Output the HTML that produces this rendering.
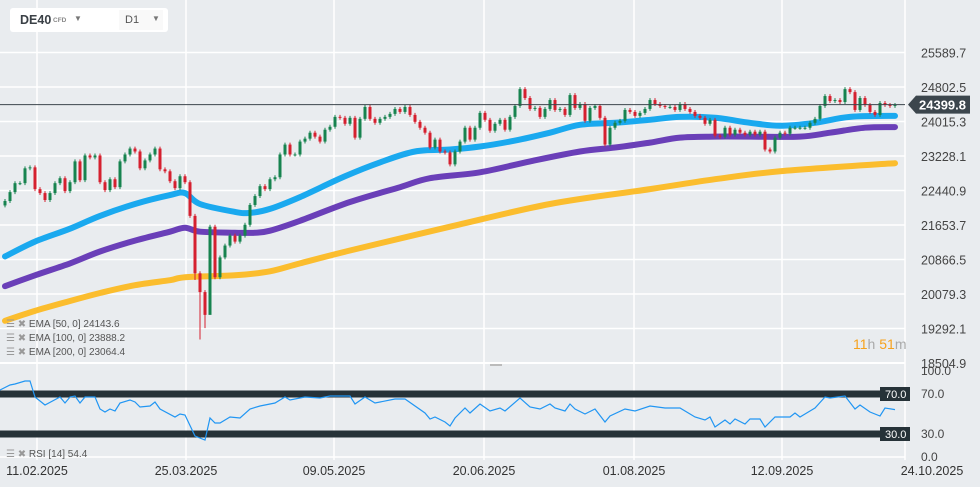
<!DOCTYPE html>
<html><head><meta charset="utf-8"><style>
body{margin:0;background:#e9ecef;width:980px;height:487px;overflow:hidden;font-family:"Liberation Sans",sans-serif}
svg{display:block}
</style></head><body>
<svg id="c" width="980" height="487" font-family="Liberation Sans, sans-serif"></svg>
<script>
const closes=[22201,22404,22608,22608,22947,22969,22472,22382,22224,22382,22608,22721,22427,22630,23105,22676,23240,23195,23240,22630,
22450,22698,22517,23105,23263,23398,23331,22947,23127,23263,23398,22924,22879,22653,22495,22766,22630,21862,20552,20123,
19603,21614,20462,20914,21185,21411,21275,21411,21659,22111,22314,22540,22472,22698,22743,23263,23489,23263,23263,23557,
23624,23760,23670,23557,23828,23895,24121,24099,23963,24099,23647,24076,24347,24076,23986,24076,24121,24189,24302,24234,
24347,24166,24008,23873,23760,23421,23602,23331,23308,23037,23331,23557,23873,23602,23873,24212,24054,23805,23963,24054,
23828,24121,24370,24754,24551,24302,24325,24121,24302,24505,24279,24302,24166,24618,24325,24415,
24031,24325,24370,24099,23489,23873,23986,24031,24279,24234,24144,24212,24302,24505,24415,24370,24347,24347,24279,24415,24302,24234,24144,24099,23963,24054,23692,23670,23873,23715,23828,23760,23715,23783,23715,23783,23376,23331,23647,23760,23737,23873,23873,23873,23873,23986,24076,24370,24596,24483,24505,24460,24754,24686,24279,24551,24393,24234,24166,24438,24393,24370,24393];
const firstOpen=22100;
const lowSpikeIdx=[39,40,41,42];
const lowSpikeVal=[20400,19040,19300,20300];
const ema50Idx=[1,7,14,20,27,34,37,40,47,50,54,60,69,76,83,90,96,103,110,116,123,130,136,143,150,156,163,170,179];
const ema50Val=[20936,21275,21569,21862,22133,22337,22382,22133,21952,21930,22020,22291,22766,23082,23331,23376,23444,23579,23760,23941,23986,24054,24121,24099,23986,23918,23986,24121,24144];
const ema100Idx=[1,7,14,20,27,34,37,40,47,51,54,60,70,80,86,96,106,116,123,130,136,143,150,160,166,173,179];
const ema100Val=[20258,20507,20778,21049,21297,21501,21591,21501,21478,21478,21523,21749,22178,22517,22721,22856,23105,23331,23421,23534,23647,23670,23670,23670,23760,23873,23888];
const ema200Idx=[1,7,14,20,27,34,37,47,54,60,70,90,110,130,143,156,179];
const ema200Val=[19468,19694,19920,20101,20281,20394,20462,20507,20597,20778,21071,21614,22133,22472,22698,22879,23064];
const rsiIdx=[0,2,3,5,6,7,9,12,13,14,15,16,17,19,20,21,22,23,24,26,27,28,30,31,32,35,36,37,39,41,42,43,44,46,48,50,52,55,57,58,61,64,66,70,71,73,75,79,81,85,86,87,89,90,91,93,94,96,98,100,101,104,106,108,110,111,113,114,115,117,119,121,122,125,127,130,133,136,139,141,142,143,145,146,147,149,150,152,153,155,158,159,160,162,163,165,166,169,171,172,174,176,177,179];
const rsiVal=[74,79,80,83,83,67,59,67,61,67,68,61,67,67,55,52,55,53,61,64,62,57,58,62,55,47,50,49,28,24,46,41,41,47,46,55,58,61,67,64,67,66,68,68,60,67,61,65,65,51,45,47,42,38,46,56,51,60,53,56,53,66,57,55,60,56,53,60,55,50,55,42,48,55,53,58,56,56,47,44,47,37,44,40,45,40,45,45,37,47,47,51,47,53,56,67,66,68,55,59,52,48,56,54.4];
const priceTicks=[25589.7,24802.5,24015.3,23228.1,22440.9,21653.7,20866.5,20079.3,19292.1,18504.9];
const dateLabels=["11.02.2025","25.03.2025","09.05.2025","20.06.2025","01.08.2025","12.09.2025","24.10.2025"];
const dateIdx=[7.4,37.2,66.8,96.8,126.8,156.4,186.4];
const lastPrice=24399.8;

const NS="http://www.w3.org/2000/svg";
const svg=document.getElementById('c');
function el(tag,attrs,parent){const e=document.createElementNS(NS,tag);for(const k in attrs)e.setAttribute(k,attrs[k]);(parent||svg).appendChild(e);return e;}
const xI=i=>5+(i-1)*5;
const yP=p=>52.5+(25589.7-p)/787.2*34.5;
const yR=r=>464-r;

const grid=el('g',{});


priceTicks.forEach(p=>el('line',{x1:0,x2:905,y1:yP(p),y2:yP(p),stroke:'#fff','stroke-width':1.5},grid));
[457].forEach(y=>el('line',{x1:0,x2:905,y1:y,y2:y,stroke:'#fff','stroke-width':1.5},grid));
dateIdx.forEach(i=>{if(xI(i)<905)el('line',{x1:xI(i),x2:xI(i),y1:0,y2:460,stroke:'#fff','stroke-width':1.5},grid);});
el('line',{x1:905,x2:905,y1:0,y2:460,stroke:'#fff','stroke-width':1.5},grid);
el('line',{x1:0,x2:905,y1:363,y2:363,stroke:'#fff','stroke-width':2},grid);
el('rect',{x:490,y:364,width:12,height:2,fill:'#bbb'},grid);

function smoothPath(pts){let d='M'+pts[0][0]+','+pts[0][1];
for(let k=0;k<pts.length-1;k++){const p0=pts[k-1]||pts[k],p1=pts[k],p2=pts[k+1],p3=pts[k+2]||p2;
const c1=[p1[0]+(p2[0]-p0[0])/6,p1[1]+(p2[1]-p0[1])/6],c2=[p2[0]-(p3[0]-p1[0])/6,p2[1]-(p3[1]-p1[1])/6];
d+=` C${c1[0].toFixed(1)},${c1[1].toFixed(1)} ${c2[0].toFixed(1)},${c2[1].toFixed(1)} ${p2[0].toFixed(1)},${p2[1].toFixed(1)}`;}
return d;}
function line(idx,val,color,name){const pts=idx.map((i,k)=>[xI(i),yP(val[k])]);
const p=el('path',{d:smoothPath(pts),fill:'none',stroke:color,'stroke-width':6,'stroke-linejoin':'round','stroke-linecap':'round'});

}
line(ema200Idx,ema200Val,'#fbbd2e','ema-200-line');
line(ema100Idx,ema100Val,'#6a3fb8','ema-100-line');
line(ema50Idx,ema50Val,'#1aa9ef','ema-50-line');

const cg=el('g',{});


closes.forEach((c,k)=>{const i=k+1;const o=k?closes[k-1]:firstOpen;const up=c>=o;const col=up?'#17834f':'#d5202f';
const si=lowSpikeIdx.indexOf(i);const lo=si>=0?lowSpikeVal[si]:Math.min(o,c)-45;const hi=Math.max(o,c)+45;
const x=xI(i);
el('line',{x1:x,x2:x,y1:yP(hi),y2:yP(lo),stroke:col,'stroke-width':1},cg);
const top=yP(Math.max(o,c)),bot=yP(Math.min(o,c));
const b=el('rect',{x:x-1.5,y:top,width:3,height:Math.max(1,bot-top),fill:col},cg);

});

el('line',{x1:0,x2:905,y1:yP(lastPrice),y2:yP(lastPrice),stroke:'#3c464d','stroke-width':1});
const pl=el('g',{});


const yc=yP(lastPrice);
el('polygon',{points:`908,${yc} 916,${yc-9} 970,${yc-9} 970,${yc+9} 916,${yc+9}`,fill:'#3c464d'},pl);
el('text',{x:919,y:yc+5,fill:'#fff','font-size':13,'font-weight':'bold'},pl).textContent=lastPrice.toFixed(1);

priceTicks.forEach(p=>{const t=el('text',{x:921,y:yP(p)+5,fill:'#444','font-size':12.5});t.textContent=p.toFixed(1);

});

[70,30].forEach(v=>{el('rect',{x:0,y:yR(v)-3.5,width:882,height:7,fill:'#263238'});
el('rect',{x:880,y:yR(v)-7,width:30,height:14,fill:'#263238'});
el('text',{x:885,y:yR(v)+4,fill:'#fff','font-size':11}).textContent=v.toFixed(1);});
const rp=el('polyline',{points:rsiIdx.map((i,k)=>xI(i).toFixed(1)+','+yR(rsiVal[k]).toFixed(1)).join(' '),fill:'none',stroke:'#2196f3','stroke-width':1.2});


[[100,371],[70,394],[30,434],[0,457]].forEach(([v,y])=>{const t=el('text',{x:921,y:y+4,fill:'#444','font-size':12});t.textContent=v.toFixed(1);

});

dateLabels.forEach((d,k)=>{const t=el('text',{x:xI(dateIdx[k]),y:475,fill:'#333','font-size':12.5,'text-anchor':'middle'});t.textContent=d;

});
</script>
<div style="position:absolute;left:10px;top:8px;width:158px;height:24px;background:#fff;border-radius:3px">
<span style="position:absolute;left:10px;top:5px;font-size:12.5px;font-weight:bold;color:#3a4046">DE40</span>
<span style="position:absolute;left:43px;top:9px;font-size:6.5px;font-weight:bold;color:#888">CFD</span>
<span style="position:absolute;left:64px;top:6px;font-size:8px;color:#777">▼</span>
<div style="position:absolute;left:109px;top:2px;width:44px;height:20px;background:#f9f9f9"><span style="position:absolute;left:6px;top:4px;font-size:11px;color:#555">D1</span><span style="position:absolute;left:33px;top:4px;font-size:8px;color:#777">▼</span></div>
</div>
<div style="position:absolute;left:6px;top:318px;font-size:10px;color:#555;line-height:14px">
<div><span style="color:#999">☰ ✖</span> EMA [50, 0] 24143.6</div>
<div><span style="color:#999">☰ ✖</span> EMA [100, 0] 23888.2</div>
<div><span style="color:#999">☰ ✖</span> EMA [200, 0] 23064.4</div>
</div>
<div style="position:absolute;left:6px;top:449px;font-size:10px;color:#555"><span style="color:#999">☰ ✖</span> RSI [14] 54.4</div>
<div style="position:absolute;left:853px;top:336px;font-size:14px;color:#f6a21c">11<span style="color:#aaa">h</span> 51<span style="color:#aaa">m</span></div>
</body></html>
